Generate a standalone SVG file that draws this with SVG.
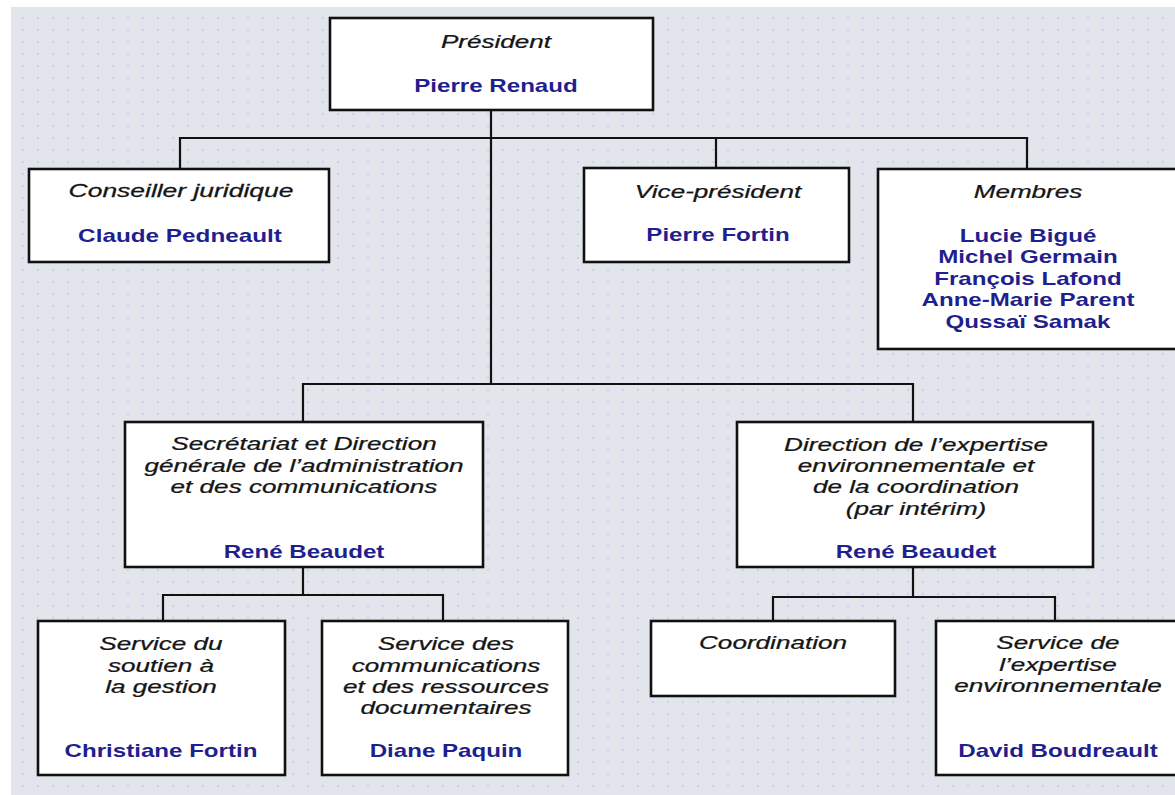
<svg xmlns="http://www.w3.org/2000/svg" width="1175" height="795" viewBox="0 0 1175 795">
<style>
.box{fill:#ffffff;stroke:#111111;stroke-width:2.6}
.ln{fill:none;stroke:#111111;stroke-width:2.2}
.t{font-family:"Liberation Sans",Arial,sans-serif;font-size:18px;font-style:italic;fill:#151515;stroke:#151515;stroke-width:0.25;text-anchor:middle}
.n{font-family:"Liberation Sans",Arial,sans-serif;font-size:18px;font-weight:bold;fill:#1f1f8e;text-anchor:middle}
</style>
<defs>
<pattern id="dots" width="15" height="12" patternUnits="userSpaceOnUse">
<rect width="15" height="12" fill="#e3e5ec"/>
<rect x="7" y="5" width="2" height="2" fill="#cbd0f2"/>
</pattern>
</defs>
<rect width="1175" height="795" fill="#ffffff"/>
<rect x="11" y="7" width="1164" height="788" fill="url(#dots)"/>

<g id="connectors">
<path class="ln" d="M491,110 V384"/>
<path class="ln" d="M180,168 V138 H1027 V168"/>
<path class="ln" d="M716,138 V168"/>
<path class="ln" d="M303,422 V384 H913 V422"/>
<path class="ln" d="M303,567 V595"/>
<path class="ln" d="M163,621 V595 H443 V621"/>
<path class="ln" d="M913,567 V597"/>
<path class="ln" d="M773,621 V597 H1055 V621"/>
</g>

<g id="president">
<rect class="box" x="330" y="18" width="323" height="92"/>
<text class="t" transform="translate(496,48) scale(1.45,1)">Président</text>
<text class="n" transform="translate(496,92) scale(1.34,1)">Pierre Renaud</text>
</g>

<g id="conseiller">
<rect class="box" x="29" y="169" width="300" height="93"/>
<text class="t" transform="translate(181,197) scale(1.47,1)">Conseiller juridique</text>
<text class="n" transform="translate(180,242) scale(1.35,1)">Claude Pedneault</text>
</g>

<g id="vice-president">
<rect class="box" x="584" y="168" width="265" height="94"/>
<text class="t" transform="translate(718,198) scale(1.45,1)">Vice-président</text>
<text class="n" transform="translate(718,241) scale(1.34,1)">Pierre Fortin</text>
</g>

<g id="membres">
<rect class="box" x="878" y="169" width="300" height="180"/>
<text class="t" transform="translate(1028,198) scale(1.45,1)">Membres</text>
<text class="n" transform="translate(1028,242) scale(1.34,1)">Lucie Bigué</text>
<text class="n" transform="translate(1028,263) scale(1.34,1)">Michel Germain</text>
<text class="n" transform="translate(1028,285) scale(1.34,1)">François Lafond</text>
<text class="n" transform="translate(1028,306) scale(1.34,1)">Anne-Marie Parent</text>
<text class="n" transform="translate(1028,328) scale(1.34,1)">Qussaï Samak</text>
</g>

<g id="secretariat">
<rect class="box" x="125" y="422" width="358" height="145"/>
<text class="t" transform="translate(304,450) scale(1.45,1)">Secrétariat et Direction</text>
<text class="t" transform="translate(304,472) scale(1.45,1)">générale de l’administration</text>
<text class="t" transform="translate(304,493) scale(1.45,1)">et des communications</text>
<text class="n" transform="translate(304,558) scale(1.34,1)">René Beaudet</text>
</g>

<g id="direction-expertise">
<rect class="box" x="737" y="422" width="356" height="145"/>
<text class="t" transform="translate(916,451) scale(1.45,1)">Direction de l’expertise</text>
<text class="t" transform="translate(916,472) scale(1.45,1)">environnementale et</text>
<text class="t" transform="translate(916,493) scale(1.45,1)">de la coordination</text>
<text class="t" transform="translate(916,515) scale(1.45,1)">(par intérim)</text>
<text class="n" transform="translate(916,558) scale(1.34,1)">René Beaudet</text>
</g>

<g id="soutien-gestion">
<rect class="box" x="38" y="621" width="247" height="154"/>
<text class="t" transform="translate(161,650) scale(1.45,1)">Service du</text>
<text class="t" transform="translate(161,672) scale(1.45,1)">soutien à</text>
<text class="t" transform="translate(161,693) scale(1.45,1)">la gestion</text>
<text class="n" transform="translate(161,757) scale(1.34,1)">Christiane Fortin</text>
</g>

<g id="communications">
<rect class="box" x="322" y="621" width="246" height="154"/>
<text class="t" transform="translate(446,650) scale(1.45,1)">Service des</text>
<text class="t" transform="translate(446,672) scale(1.45,1)">communications</text>
<text class="t" transform="translate(446,693) scale(1.45,1)">et des ressources</text>
<text class="t" transform="translate(446,714) scale(1.45,1)">documentaires</text>
<text class="n" transform="translate(446,757) scale(1.34,1)">Diane Paquin</text>
</g>

<g id="coordination">
<rect class="box" x="651" y="621" width="244" height="75"/>
<text class="t" transform="translate(773,649) scale(1.45,1)">Coordination</text>
</g>

<g id="service-expertise">
<rect class="box" x="936" y="621" width="242" height="154"/>
<text class="t" transform="translate(1058,649) scale(1.45,1)">Service de</text>
<text class="t" transform="translate(1058,671) scale(1.45,1)">l’expertise</text>
<text class="t" transform="translate(1058,692) scale(1.45,1)">environnementale</text>
<text class="n" transform="translate(1058,757) scale(1.34,1)">David Boudreault</text>
</g>
</svg>
